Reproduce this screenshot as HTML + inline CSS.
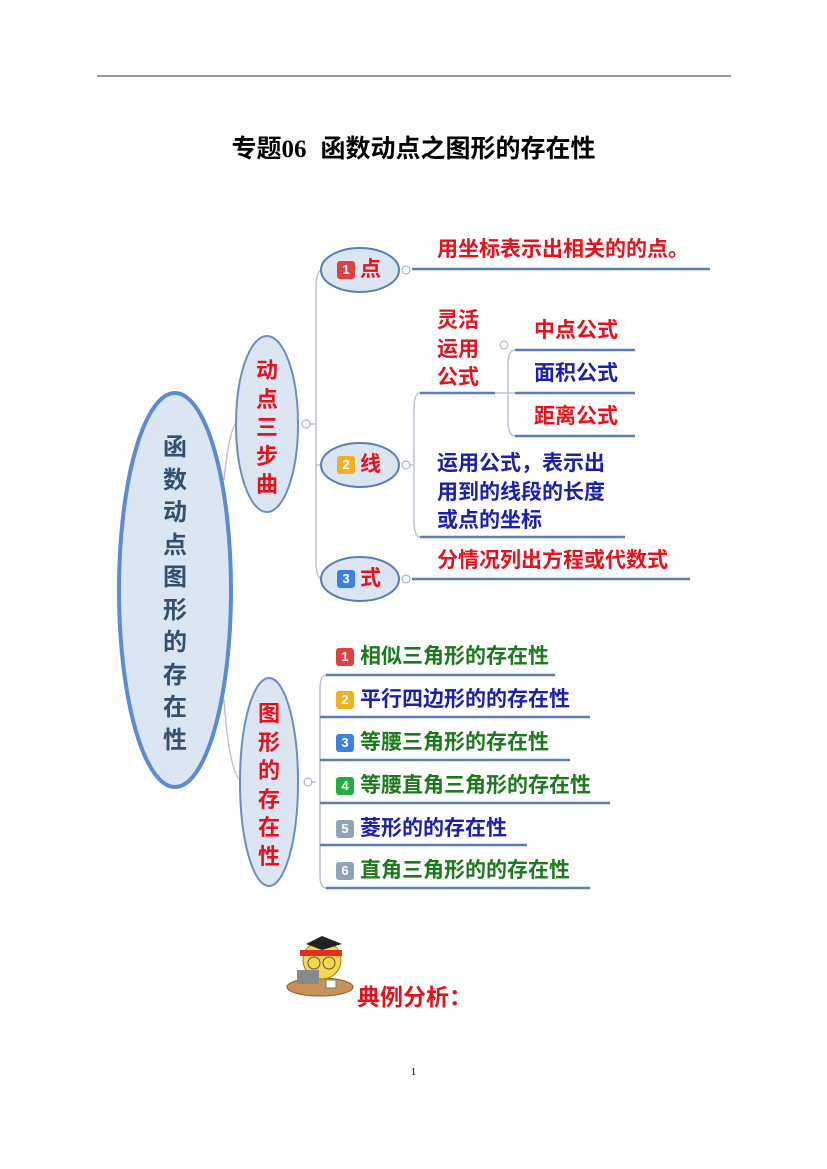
<!DOCTYPE html>
<html><head><meta charset="utf-8"><style>
body{margin:0;background:#fff;}
#p{position:relative;width:827px;height:1169px;overflow:hidden;font-family:"Liberation Sans","Noto Sans CJK SC",sans-serif;}
.t{position:absolute;font-weight:bold;white-space:nowrap;line-height:1;}
.r{color:#e8101a;}.b{color:#1b1fb0;}.g{color:#1c7a1c;}
.bd{position:absolute;width:18px;height:18px;border-radius:3px;color:#fff;font-size:13px;font-weight:bold;text-align:center;line-height:18px;font-family:"Liberation Sans",sans-serif;}
.v{position:absolute;font-weight:bold;text-align:center;line-height:1;}
</style></head><body><div id="p">
<svg width="827" height="1169" style="position:absolute;left:0;top:0">
<line x1="97" y1="76" x2="731" y2="76" stroke="#333" stroke-width="1"/>
<g fill="none" stroke="#b9c3d3" stroke-width="1.5">
<path d="M224 480 Q230 420 240 420"/>
<path d="M224 700 Q230 782 244 782"/>
<path d="M306 424 H316 M322 270 Q316 270 316 290 V560 Q316 579 322 579 M316 465 H322"/>
<path d="M308 782 H316 M326 675 Q320 675 320 690 V875 Q320 888 326 888"/>
<path d="M420 537 Q414 537 414 520 V410 Q414 393 420 393 M410 465 H414"/>
<path d="M515 350 Q508 350 508 365 V420 Q508 436 515 436 M495 393 H515"/>
</g>
<g fill="none" stroke="#5a7fb5" stroke-width="2.5">
<line x1="412" y1="269" x2="710" y2="269"/>
<line x1="420" y1="393" x2="495" y2="393"/>
<line x1="515" y1="350" x2="635" y2="350"/>
<line x1="515" y1="393" x2="635" y2="393"/>
<line x1="515" y1="436" x2="635" y2="436"/>
<line x1="420" y1="537" x2="625" y2="537"/>
<line x1="412" y1="579" x2="690" y2="579"/>
<line x1="326" y1="675" x2="555" y2="675"/>
<line x1="320" y1="717" x2="590" y2="717"/>
<line x1="320" y1="760" x2="570" y2="760"/>
<line x1="320" y1="803" x2="610" y2="803"/>
<line x1="320" y1="845" x2="527" y2="845"/>
<line x1="326" y1="888" x2="590" y2="888"/>
</g>
<g fill="#fff" stroke="#9aa9c0" stroke-width="1">
<circle cx="306" cy="424" r="4"/><circle cx="406" cy="270" r="4"/><circle cx="406" cy="465" r="4"/><circle cx="406" cy="579" r="4"/><circle cx="504" cy="345" r="4"/><circle cx="308" cy="782" r="4"/>
</g>
<ellipse cx="175" cy="590" rx="56" ry="197" fill="#dce6f2" stroke="#5b8bd0" stroke-width="4"/>
<ellipse cx="267" cy="424" rx="31" ry="88" fill="#dce6f2" stroke="#6a8dc4" stroke-width="2"/>
<ellipse cx="269" cy="782" rx="29" ry="104" fill="#dce6f2" stroke="#6a8dc4" stroke-width="2"/>
<ellipse cx="360" cy="270" rx="39" ry="22" fill="#dce6f2" stroke="#5a7fb5" stroke-width="2"/>
<ellipse cx="360" cy="465" rx="39" ry="22" fill="#dce6f2" stroke="#5a7fb5" stroke-width="2"/>
<ellipse cx="360" cy="579" rx="39" ry="22" fill="#dce6f2" stroke="#5a7fb5" stroke-width="2"/>
<ellipse cx="320" cy="987" rx="33" ry="9" fill="#c8925a" stroke="#8a5a2a"/>
<circle cx="322" cy="960" r="19" fill="#f6d64a" stroke="#a07a10"/>
<rect x="300" y="950" width="42" height="6" fill="#e03020"/>
<polygon points="306,944 322,936 342,944 322,950" fill="#222"/>
<circle cx="314" cy="963" r="6" fill="none" stroke="#555"/><circle cx="329" cy="963" r="6" fill="none" stroke="#555"/>
<rect x="297" y="970" width="22" height="14" fill="#8a8a8a"/>
<rect x="326" y="980" width="10" height="8" fill="#fff" stroke="#777"/>
</svg>
<div class="t" style="left:0;width:827px;text-align:center;top:137px;font-size:25px;color:#000;">专题<span style="font-family:'Liberation Serif',serif">06</span>&nbsp;&nbsp;函数动点之图形的存在性</div>
<div class="v" style="left:160px;top:432px;width:30px;font-size:24px;line-height:32.5px;color:#34506e;">函<br>数<br>动<br>点<br>图<br>形<br>的<br>存<br>在<br>性</div>
<div class="v r" style="left:254px;top:357px;width:26px;font-size:22px;line-height:28.5px;">动<br>点<br>三<br>步<br>曲</div>
<div class="v r" style="left:256px;top:700px;width:26px;font-size:22px;line-height:28.6px;">图<br>形<br>的<br>存<br>在<br>性</div>
<div class="bd" style="left:337px;top:261px;background:#e04040">1</div><div class="t r" style="left:360px;top:259px;font-size:21px;">点</div>
<div class="bd" style="left:337px;top:456px;background:#f2b020">2</div><div class="t r" style="left:360px;top:454px;font-size:21px;">线</div>
<div class="bd" style="left:337px;top:570px;background:#3d80e0">3</div><div class="t r" style="left:360px;top:568px;font-size:21px;">式</div>
<div class="t r" style="left:437px;top:239px;font-size:21px;">用坐标表示出相关的的点。</div>
<div class="t r" style="left:437px;top:307px;font-size:21px;line-height:28.5px;">灵活<br>运用<br>公式</div>
<div class="t r" style="left:534px;top:320px;font-size:21px;">中点公式</div>
<div class="t b" style="left:534px;top:363px;font-size:21px;">面积公式</div>
<div class="t r" style="left:534px;top:406px;font-size:21px;">距离公式</div>
<div class="t b" style="left:437px;top:450px;font-size:21px;line-height:28.5px;">运用公式，表示出<br>用到的线段的长度<br>或点的坐标</div>
<div class="t r" style="left:437px;top:550px;font-size:21px;">分情况列出方程或代数式</div>
<div class="bd" style="left:336px;top:648px;background:#e04040">1</div><div class="t g" style="left:360px;top:646px;font-size:21px;">相似三角形的存在性</div>
<div class="bd" style="left:336px;top:691px;background:#f2b020">2</div><div class="t b" style="left:360px;top:689px;font-size:21px;">平行四边形的的存在性</div>
<div class="bd" style="left:336px;top:734px;background:#3d80e0">3</div><div class="t g" style="left:360px;top:732px;font-size:21px;">等腰三角形的存在性</div>
<div class="bd" style="left:336px;top:777px;background:#20b040">4</div><div class="t g" style="left:360px;top:775px;font-size:21px;">等腰直角三角形的存在性</div>
<div class="bd" style="left:336px;top:820px;background:#8fa5b5">5</div><div class="t b" style="left:360px;top:818px;font-size:21px;">菱形的的存在性</div>
<div class="bd" style="left:336px;top:862px;background:#8fa5b5">6</div><div class="t g" style="left:360px;top:860px;font-size:21px;">直角三角形的的存在性</div>
<div class="t r" style="left:357px;top:986px;font-size:23px;">典例分析：</div>
<div class="t" style="left:0;width:827px;text-align:center;top:1067px;font-size:11px;font-weight:normal;font-family:'Liberation Serif',serif;">1</div>
</div></body></html>
